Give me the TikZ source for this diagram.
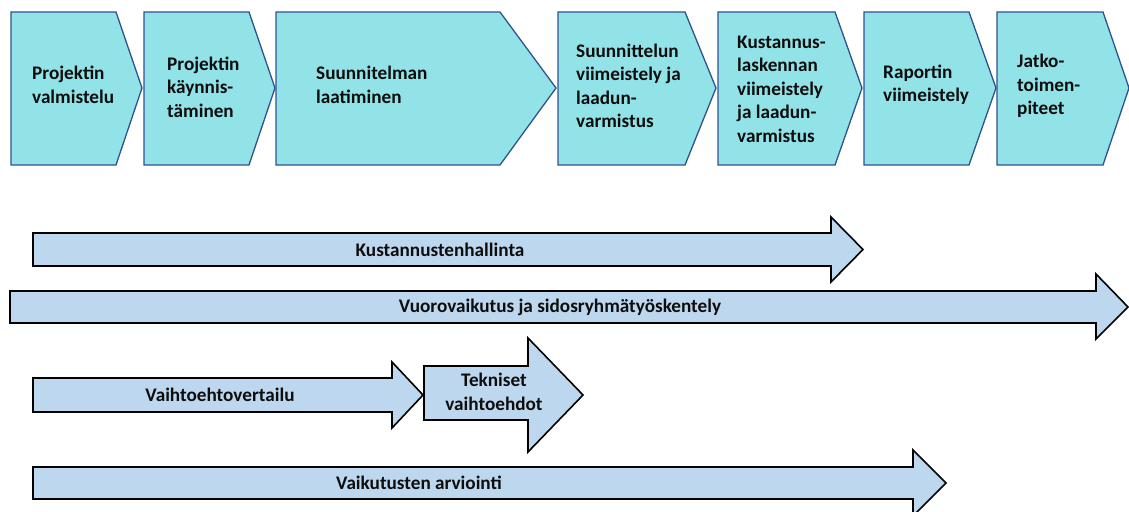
\documentclass[tikz,border=0pt]{standalone}
\usepackage{fontspec}
\setmainfont{Carlito}
\begin{document}
\definecolor{phasefill}{HTML}{91E3E8}
\definecolor{phaseline}{HTML}{2F528F}
\definecolor{barfill}{HTML}{BDD7EE}
\definecolor{txt}{HTML}{0D0D0D}
\begin{tikzpicture}[x=1pt,y=-1pt,
  phase/.style={fill=phasefill,draw=phaseline,line width=1.3pt,line join=miter},
  bar/.style={fill=barfill,draw=black,line width=1.6pt,line join=miter},
  label/.style={inner sep=0pt,text=txt,font=\bfseries\fontsize{19.2}{23.5}\selectfont},
  phasetext/.style={label,anchor=west,align=left},
  bartext/.style={label,anchor=center,align=center}]
\useasboundingbox (0,0) rectangle (1129,511);

% process phases (chevrons)
\draw[phase] (11,12) -- (116,12) -- (142,88) -- (116,165) -- (11,165) -- cycle;
\draw[phase] (144,12) -- (249,12) -- (275,88) -- (249,165) -- (144,165) -- cycle;
\draw[phase] (276,12) -- (500,12) -- (556,88) -- (500,165) -- (276,165) -- cycle;
\draw[phase] (558,12) -- (685,12) -- (716,88) -- (685,165) -- (558,165) -- cycle;
\draw[phase] (718,12) -- (835,12) -- (862,88) -- (835,165) -- (718,165) -- cycle;
\draw[phase] (864,12) -- (969,12) -- (996,88) -- (969,165) -- (864,165) -- cycle;
\draw[phase] (997,12) -- (1103,12) -- (1129,88) -- (1103,165) -- (997,165) -- cycle;

\node[phasetext] (p1) at (32,85) {Projektin\\valmistelu};
\node[phasetext] (p2) at (167,87) {Projektin\\käynnis-\\täminen};
\node[phasetext] (p3) at (316,85) {Suunnitelman\\laatiminen};
\node[phasetext] (p4) at (576,86) {Suunnittelun\\viimeistely ja\\laadun-\\varmistus};
\node[phasetext] (p5) at (737,89) {Kustannus-\\laskennan\\viimeistely\\ja laadun-\\varmistus};
\node[phasetext] (p6) at (883,85) {Raportin\\viimeistely};
\node[phasetext] (p7) at (1017,86) {Jatko-\\toimen-\\piteet};

% continuous activities (block arrows)
\draw[bar] (33,233) -- (831,233) -- (831,217) -- (863,249.5) -- (831,282) -- (831,266) -- (33,266) -- cycle;
\draw[bar] (10,291) -- (1096,291) -- (1096,274) -- (1128,307) -- (1096,339) -- (1096,323) -- (10,323) -- cycle;
\draw[bar] (33,378) -- (392,378) -- (392,362) -- (423,395) -- (392,428) -- (392,412) -- (33,412) -- cycle;
\draw[bar] (424,366) -- (528,366) -- (528,338) -- (583,395) -- (528,452) -- (528,420) -- (424,420) -- cycle;
\draw[bar] (33,467) -- (913,467) -- (913,450) -- (946,483) -- (913,516) -- (913,499) -- (33,499) -- cycle;

\node[bartext] (a1) at (440,249.5) {Kustannustenhallinta};
\node[bartext] (a2) at (560,307) {Vuorovaikutus ja sidosryhmätyöskentely};
\node[bartext] (a3) at (220,395) {Vaihtoehtovertailu};
\node[bartext] (a4) at (494,392) {Tekniset\\vaihtoehdot};
\node[bartext] (a5) at (419,483) {Vaikutusten arviointi};
\end{tikzpicture}
\end{document}
